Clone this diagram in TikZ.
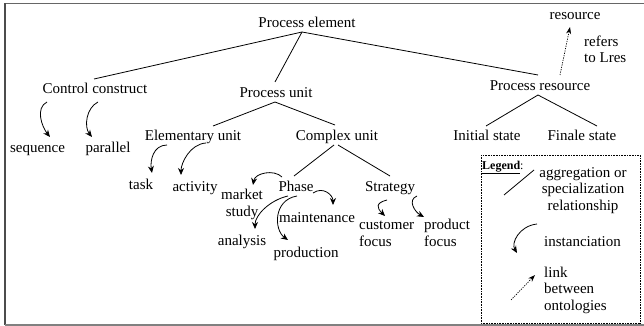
\documentclass[tikz,border=0pt]{standalone}
\usepackage{fontspec}
\setmainfont{Liberation Serif}
\usetikzlibrary{arrows.meta}
\begin{document}
\begin{tikzpicture}[x=1pt,y=-1pt,
  lbl/.style={inner sep=0pt,anchor=base,font=\fontsize{15}{16.5}\selectfont},
  lblw/.style={lbl,anchor=base west},
  rel/.style={line width=0.8pt},
  inst/.style={line width=0.8pt,-{Stealth[length=7pt,width=6pt]}},
  link/.style={line width=0.7pt,dash pattern=on 1.2pt off 1.2pt,-{Stealth[length=7pt,width=5pt]}}]
\useasboundingbox (0,0) rectangle (644,326);
% outer frame
\draw[gray!80!black,line width=1.4pt] (5,3.5) -- (644,3.5);
\draw[gray!60!black,line width=2pt] (5,3.5) -- (5,325);
\draw[gray,line width=1.2pt] (5,325) -- (644,325);

% concept nodes (multi-line nodes are placed by the baseline of their last line)
\node[lbl] (pe)  at (307,28)  {Process element};
\node[lbl] (res) at (575,20)  {resource};
\node[lblw,align=left] (ref) at (584,63) {refers\\to Lres};
\node[lbl] (cc)  at (95,94)   {Control construct};
\node[lbl] (pu)  at (276,98)  {Process unit};
\node[lbl] (pr)  at (540,91)  {Process resource};
\node[lbl] (is)  at (487,140) {Initial state};
\node[lbl] (fs)  at (582,140) {Finale state};
\node[lbl] (eu)  at (193,140) {Elementary unit};
\node[lbl] (cu)  at (337,140) {Complex unit};
\node[lbl] (seq) at (37.5,152){sequence};
\node[lbl] (par) at (108,152) {parallel};
\node[lbl] (task) at (141,189){task};
\node[lbl] (act) at (195,191) {activity};
\node[lbl,align=center] (ms) at (242,216) {market\\study};
\node[lbl] (ph)  at (296,191) {Phase};
\node[lbl] (mt)  at (317,222) {maintenance};
\node[lbl] (an)  at (242,245) {analysis};
\node[lbl] (pd)  at (306,257) {production};
\node[lbl] (st)  at (390,191) {Strategy};
\node[lblw,align=left] (cf) at (359,246) {customer\\focus};
\node[lblw,align=left] (pf) at (424,246) {product\\focus};

% aggregation / specialization relationships
\draw[rel] ([shift={(-5,4)}]pe.base) -- ([shift={(-1,-15)}]cc.base);
\draw[rel] ([shift={(-5,4)}]pe.base) -- ([shift={(-1,-16)}]pu.base);
\draw[rel] ([shift={(-5,4)}]pe.base) -- ([shift={(-2,-16)}]pr.base);
\draw[rel] ([shift={(-1,4)}]pu.base) -- ([shift={(20,-14)}]eu.base);
\draw[rel] ([shift={(-1,4)}]pu.base) -- ([shift={(-2,-15)}]cu.base);
\draw[rel] ([shift={(-2,4)}]pr.base) -- ([shift={(-1,-14)}]is.base);
\draw[rel] ([shift={(-2,4)}]pr.base) -- ([shift={(15,-14)}]fs.base);
\draw[rel] ([shift={(-3,5)}]cu.base) -- ([shift={(-2,-15)}]ph.base);
\draw[rel] ([shift={(1,5)}]cu.base) -- ([shift={(0,-15)}]st.base);

% link to the resource ontology
\draw[link] ([shift={(20,-16)}]pr.base) -- ([shift={(-5,7)}]res.base);

% instanciations
\draw[inst] ([shift={(-48,8)}]cc.base) .. controls +(-12,6) and +(-8,-10) .. ([shift={(12.5,-15)}]seq.base);
\draw[inst] ([shift={(3,8)}]cc.base) .. controls +(-12,6) and +(-8,-10) .. ([shift={(-16,-15)}]par.base);
\draw[inst] ([shift={(-26,5)}]eu.base) .. controls +(-14,0) and +(-2,-12) .. ([shift={(11,-16)}]task.base);
\draw[inst] ([shift={(13,3)}]eu.base) .. controls +(-16,1) and +(0,-12) .. ([shift={(-14,-16)}]act.base);
\draw[inst] ([shift={(-14,-14)}]ph.base) .. controls +(-8,-8) and +(2,-12) .. ([shift={(11,-31)}]ms.base);
\draw[inst] ([shift={(-8,5)}]ph.base) .. controls +(-18,4) and +(0,-14) .. ([shift={(13,-16)}]an.base);
\draw[inst] ([shift={(1,5)}]ph.base) .. controls +(-24,4) and +(-14,-10) .. ([shift={(-18,-17)}]pd.base);
\draw[inst] ([shift={(17,2)}]ph.base) .. controls +(10,-7) and +(0,-10) .. ([shift={(16,-17)}]mt.base);
\draw[inst] ([shift={(-3,9)}]st.base) .. controls +(-12,3) and +(-8,-8) .. ([shift={(26,-30)}]cf.base west);
\draw[inst] ([shift={(27,5)}]st.base) .. controls +(-10,4) and +(-9,-5) .. ([shift={(0,-29)}]pf.base west);

% legend
\draw[line width=0.6pt,dash pattern=on 0.8pt off 0.8pt] (481,155) rectangle (640,323);
\node[inner sep=0pt,anchor=base west,font=\fontsize{12}{13}\selectfont] (lg) at (482,169) {\underline{\textbf{Legend}}:};
\node[lbl,align=center] (lrel) at (583,210) {aggregation or\\specialization\\relationship};
\node[lblw] (linst) at (544,246) {instanciation};
\node[lblw,align=left] (llink) at (544,310) {link\\between\\ontologies};
\coordinate (r1) at (504,195); \coordinate (r2) at (534,170);
\coordinate (i1) at (537,224); \coordinate (i2) at (517,253);
\coordinate (k1) at (511,300); \coordinate (k2) at (535,275);
\draw[rel] (r1) -- (r2);
\draw[inst] (i1) .. controls +(-18,2) and +(-6,-10) .. (i2);
\draw[link] (k1) -- (k2);
\end{tikzpicture}
\end{document}
